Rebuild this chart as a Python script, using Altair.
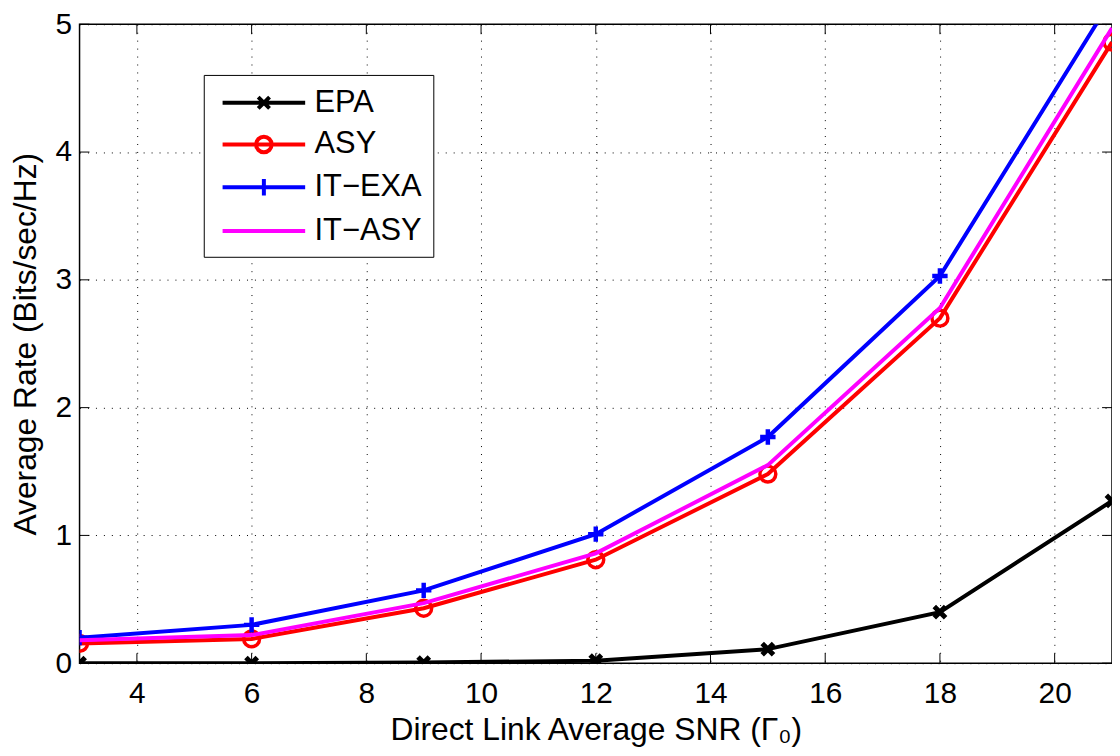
import altair as alt
import pandas as pd

# ---- data ----
x_vals = [3, 6, 9, 12, 15, 18, 21]
epa = [0.0, 0.0, 0.005, 0.02, 0.11, 0.40, 1.27]
asy = [0.155, 0.19, 0.43, 0.81, 1.48, 2.70, 4.86]
it_exa = [0.20, 0.30, 0.57, 1.01, 1.77, 3.03, 5.20]
it_asy = [0.18, 0.22, 0.47, 0.86, 1.55, 2.78, 4.97]

series_names = ["EPA", "ASY", "IT\u2212EXA", "IT\u2212ASY"]
series_values = [epa, asy, it_exa, it_asy]
series_colors = ["#000000", "#ff0000", "#0000ff", "#ff00ff"]

x_ticks = [4, 6, 8, 10, 12, 14, 16, 18, 20]
y_ticks = [0, 1, 2, 3, 4, 5]

# ---- styling ----
W, H = 1039, 643
FONT = "Liberation Sans"
X_TITLE = "Direct Link Average SNR (\u0393\u2080)"
Y_TITLE = "Average Rate (Bits/sec/Hz)"
marker_shapes = {
    "EPA": ("M-1,-1L1,1M-1,1L1,-1", 130, 5),
    "ASY": ("circle", 256, 3.5),
    "IT\u2212EXA": ("M-1,0H1M0,-1V1", 240, 4.5),
}
# legend symbols: unit = 15 px (symbolSize 900)
L = 2.77
legend_paths = [
    f"M-{L},0H{L}M-0.38,-0.38L0.38,0.38M-0.38,0.38L0.38,-0.38",
    f"M-{L},0H{L}M-0.52,0A0.52,0.52,0,1,1,0.52,0A0.52,0.52,0,1,1,-0.52,0",
    f"M-{L},0H{L}M-0.45,0H0.45M0,-0.55V0.55",
    f"M-{L},0H{L}",
]

rows = []
for name, vals in zip(series_names, series_values):
    for xv, yv in zip(x_vals, vals):
        rows.append({"x": xv, "y": yv, "series": name})
df = pd.DataFrame(rows)

x_scale = alt.Scale(domain=[3, 21], nice=False, zero=False)
y_scale = alt.Scale(domain=[0, 5], nice=False)

x_axis = alt.Axis(values=x_ticks, labelPadding=16, titlePadding=6, format="d")
y_axis = alt.Axis(values=y_ticks, labelPadding=8, titlePadding=13, format="d")


def X(field):
    return alt.X(field, scale=x_scale, axis=x_axis, title=X_TITLE)


def Y(field):
    return alt.Y(field, scale=y_scale, axis=y_axis, title=Y_TITLE)


layers = []

# inward tick marks (MATLAB box style)
df_xt = pd.DataFrame({"t": x_ticks})
df_yt = pd.DataFrame({"t": y_ticks})
layers.append(
    alt.Chart(df_xt).mark_rule(color="black", strokeWidth=1).encode(
        x=X("t:Q"), y=alt.value(H), y2=alt.value(H - 10)))
layers.append(
    alt.Chart(df_xt).mark_rule(color="black", strokeWidth=1).encode(
        x=X("t:Q"), y=alt.value(0), y2=alt.value(10)))
layers.append(
    alt.Chart(df_yt).mark_rule(color="black", strokeWidth=1).encode(
        y=Y("t:Q"), x=alt.value(0), x2=alt.value(10)))
layers.append(
    alt.Chart(df_yt).mark_rule(color="black", strokeWidth=1).encode(
        y=Y("t:Q"), x=alt.value(W), x2=alt.value(W - 10)))

# series: line then markers, in plotting order
for name, color in zip(series_names, series_colors):
    sub = df[df["series"] == name]
    layers.append(
        alt.Chart(sub).mark_line(color=color, strokeWidth=4, clip=True).encode(
            x=X("x:Q"), y=Y("y:Q")))
    if name in marker_shapes:
        shp, sz, sw = marker_shapes[name]
        layers.append(
            alt.Chart(sub).mark_point(color=color, filled=False, shape=shp,
                                      size=sz, strokeWidth=sw, opacity=1,
                                      clip=True).encode(
                x=X("x:Q"), y=Y("y:Q")))

# legend-only layer
leg = alt.Legend(title=None, orient="none", legendX=125, legendY=51,
                 symbolSize=900, symbolStrokeWidth=4, symbolOpacity=1,
                 symbolOffset=32.5,
                 labelFont=FONT, labelFontSize=31, labelColor="black",
                 labelOffset=34, labelLimit=0, padding=11, rowPadding=10,
                 strokeColor="black", fillColor="white", cornerRadius=0)
layers.append(
    alt.Chart(df).mark_point(filled=False, opacity=0, clip=True).encode(
        x=X("x:Q"), y=Y("y:Q"),
        color=alt.Color("series:N", scale=alt.Scale(domain=series_names, range=series_colors), legend=leg),
        shape=alt.Shape("series:N", scale=alt.Scale(domain=series_names, range=legend_paths), legend=leg)))

chart = alt.layer(*layers).properties(
    width=W, height=H,
    padding={"left": 72, "top": 14, "right": 0, "bottom": 88},
    autosize=alt.AutoSizeParams(type="none"),
    background="white",
).configure_view(
    stroke="black", strokeWidth=1.5
).configure_axis(
    grid=True, gridColor="black", gridDash=[1, 7], gridWidth=1, gridOpacity=1,
    domain=False, ticks=False, tickSize=0,
    labelFont=FONT, labelFontSize=30, labelColor="black",
    titleFont=FONT, titleFontSize=32, titleFontWeight="normal", titleColor="black",
)

chart.save("out.html", embed_options={"renderer": "svg", "actions": False})
